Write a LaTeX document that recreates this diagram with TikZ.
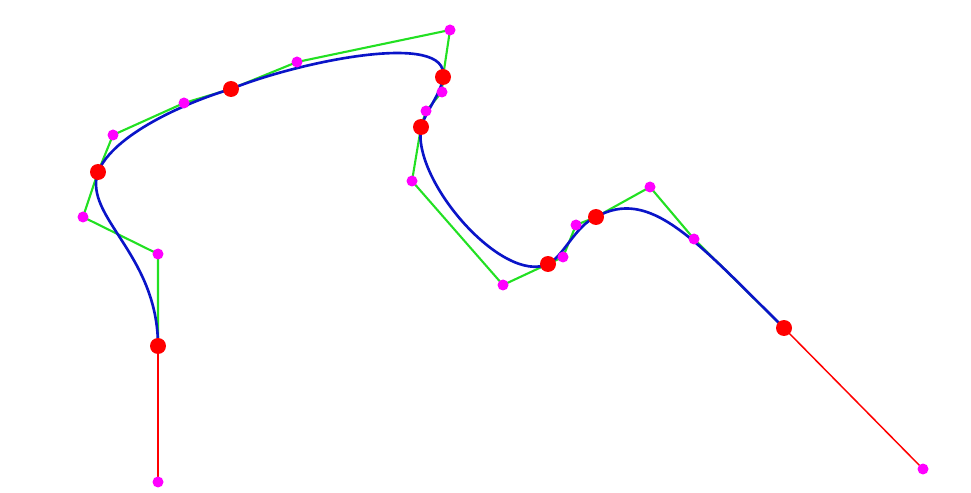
\documentclass[tikz,border=0pt]{standalone}
\usetikzlibrary{positioning}

\definecolor{ctrlgreen}{RGB}{34,224,34}
\definecolor{curveblue}{RGB}{10,20,200}
\definecolor{handlepink}{RGB}{255,0,255}
\definecolor{knotred}{RGB}{255,0,0}

\begin{document}
\begin{tikzpicture}[
  x=0.02cm,y=-0.02cm,
  polyline/.style={line width=1.2pt,ctrlgreen},
  spline/.style={line width=1.5pt,curveblue},
  tangent/.style={line width=0.85pt,knotred},
  knot/.style={circle,fill=knotred,inner sep=0pt,minimum size=0.32cm},
  handle/.style={circle,fill=handlepink,inner sep=0pt,minimum size=0.22cm},
]
\useasboundingbox (0,0) rectangle (971,493);

% === KNOTS (on the curve) ===
\coordinate (k0) at (158,346);
\coordinate (k1) at (98,172);
\coordinate (k2) at (231,89);
\coordinate (k3) at (443,77);
\coordinate (k4) at (421,127);
\coordinate (k5) at (548,264);
\coordinate (k6) at (596,217);
\coordinate (k7) at (784,328);

% === HANDLES (control points) ===
\coordinate (a1) at (158,254); \coordinate (b1) at (83,217);
\coordinate (a2) at (113,135); \coordinate (b2) at (184,103);
\coordinate (a3) at (297,62);  \coordinate (b3) at (450,30);
\coordinate (a4) at (442,92);  \coordinate (b4) at (426,111);
\coordinate (a5) at (412,181); \coordinate (b5) at (503,285);
\coordinate (a6) at (563,257); \coordinate (b6) at (576,225);
\coordinate (a7) at (650,187); \coordinate (b7) at (694,239);

% === END TANGENTS ===
\coordinate (t0) at (158,482);
\coordinate (t7) at (923,469);
\draw[tangent] (k0) -- (t0);
\draw[tangent] (k7) -- (t7);

% === CONTROL POLYGON ===
\draw[polyline] (k0) -- (a1) -- (b1) -- (k1) -- (a2) -- (b2) -- (k2)
  -- (a3) -- (b3) -- (k3) -- (a4) -- (b4) -- (k4) -- (a5) -- (b5) -- (k5)
  -- (a6) -- (b6) -- (k6) -- (a7) -- (b7) -- (k7);

% === SPLINE ===
\draw[spline] (k0) .. controls (a1) and (b1) .. (k1)
  .. controls (a2) and (b2) .. (k2)
  .. controls (a3) and (b3) .. (k3)
  .. controls (a4) and (b4) .. (k4)
  .. controls (a5) and (b5) .. (k5)
  .. controls (a6) and (b6) .. (k6)
  .. controls (a7) and (b7) .. (k7);

% === POINTS ===
\foreach \p in {a1,b1,a2,b2,a3,b3,a4,b4,a5,b5,a6,b6,a7,b7,t0,t7}
  \node[handle] (h-\p) at (\p) {};
\foreach \p in {k0,k1,k2,k3,k4,k5,k6,k7}
  \node[knot] (n-\p) at (\p) {};

\end{tikzpicture}
\end{document}
